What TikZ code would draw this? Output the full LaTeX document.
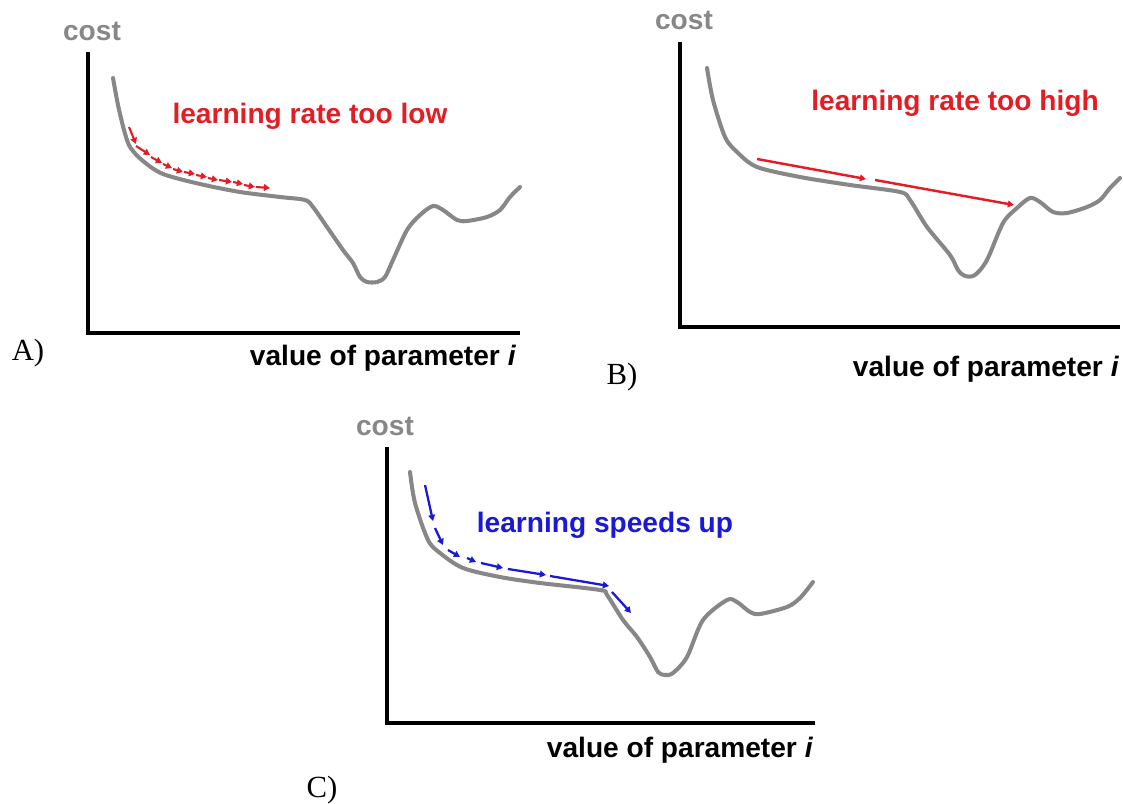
\documentclass[tikz,border=0pt]{standalone}
\usepackage{fontspec}
\setmainfont{Liberation Serif}
\setsansfont{Liberation Sans}
\usepackage{xcolor}
\usetikzlibrary{arrows.meta}

\definecolor{curvegray}{RGB}{135,135,135}
\definecolor{stepred}{RGB}{226,30,36}
\definecolor{stepblue}{RGB}{25,25,215}

\tikzset{
  axisline/.style={line width=2.3pt, line join=miter},
  costline/.style={line width=2.3pt, curvegray, line cap=round, line join=round},
  redarrow/.style={line width=1.2pt, stepred, -{Triangle[length=3.5pt,width=3.8pt]}},
  bluearrow/.style={line width=1.3pt, stepblue, -{Triangle[length=3.5pt,width=3.8pt]}},
  boldlabel/.style={font=\sffamily\bfseries\fontsize{16}{19}\selectfont, inner sep=0pt},
  panellabel/.style={font=\fontsize{17.5}{20}\selectfont, inner sep=0pt}
}

\begin{document}
\begin{tikzpicture}[x=0.02cm, y=-0.02cm]
        \useasboundingbox (0,0) rectangle (1123,804);

        % A) learning rate too low
        \draw[axisline] (88,52) -- (88,333) -- (520,333);
        \node[boldlabel, curvegray] (costA) at (92,31) {cost};
        \node[boldlabel] (paramA) at (383,358) {value of parameter \textit{i}};
        \node[panellabel] (labelA) at (28,353) {A)};
        \draw[costline] plot[smooth, tension=0.5] coordinates {(113,78) (118,105) (124,130) (130,147)
            (143,161) (163,174) (200,184) (240,192) (280,197) (305,200) (313,207)
            (327,227) (343,250) (353,263) (360,277) (367,282) (377,282) (385,277) (393,260)
            (407,230) (420,215) (433,206) (443,210) (457,220) (467,221) (487,217) (500,210)
            (510,197) (520,187)};
        \node[boldlabel, stepred] (rateA) at (310,116) {learning rate too low};
        \foreach \xa/\ya/\xb/\yb in {129/127/136/144, 136/146/150/155, 151/157/162/163,
            163/164/172/168, 173/169/183/172, 184/172/195/174, 196/175/207/177,
            208/178/218/180, 219/180/232/182, 233/182/243/184, 244/185/255/187, 256/187/270/188}
          \draw[redarrow] (\xa,\ya) -- (\xb,\yb);

        % B) learning rate too high
        \draw[axisline] (680,42) -- (680,327) -- (1120,327);
        \node[boldlabel, curvegray] (costB) at (684,20) {cost};
        \node[boldlabel] (paramB) at (986,369) {value of parameter \textit{i}};
        \node[panellabel] (labelB) at (622,377) {B)};
        \draw[costline] plot[smooth, tension=0.5] coordinates {(707,68) (713,100) (725,137) (737,152)
            (757,167) (800,177) (850,185) (900,192) (910,200) (927,227) (950,255) (958,270)
            (965,276) (975,275) (987,260) (1003,223) (1017,208) (1030,198) (1040,202)
            (1053,212) (1067,213) (1087,207) (1100,200) (1110,188) (1120,178)};
        \node[boldlabel, stepred] (rateB) at (955,103) {learning rate too high};
        \draw[redarrow, line width=1.4pt] (757,159) -- (866,179);
        \draw[redarrow, line width=1.4pt] (875,180) -- (1014,205);

        % C) learning speeds up
        \draw[axisline] (387,447) -- (387,723) -- (815,723);
        \node[boldlabel, curvegray] (costC) at (385,426) {cost};
        \node[boldlabel] (paramC) at (680,750) {value of parameter \textit{i}};
        \node[panellabel] (labelC) at (322,790) {C)};
        \draw[costline] plot[smooth, tension=0.5] coordinates {(410,472) (415,503) (428,540) (440,553)
            (463,568) (500,577) (540,583) (600,590) (607,595) (623,620) (637,637) (650,657)
            (658,672) (665,675) (673,673) (687,657) (703,620) (727,600) (737,602) (750,612)
            (760,614) (787,607) (800,598) (813,582)};
        \node[boldlabel, stepblue] (rateC) at (605,525) {learning speeds up};
        \foreach \xa/\ya/\xb/\yb in {425/485/433/521, 435/528/443/545, 448/550/460/557,
            467/558/476/562, 481/563/503/568, 508/569/546/575, 550/576/609/586, 612/592/631/613}
          \draw[bluearrow] (\xa,\ya) -- (\xb,\yb);
    \end{tikzpicture}
\end{document}
